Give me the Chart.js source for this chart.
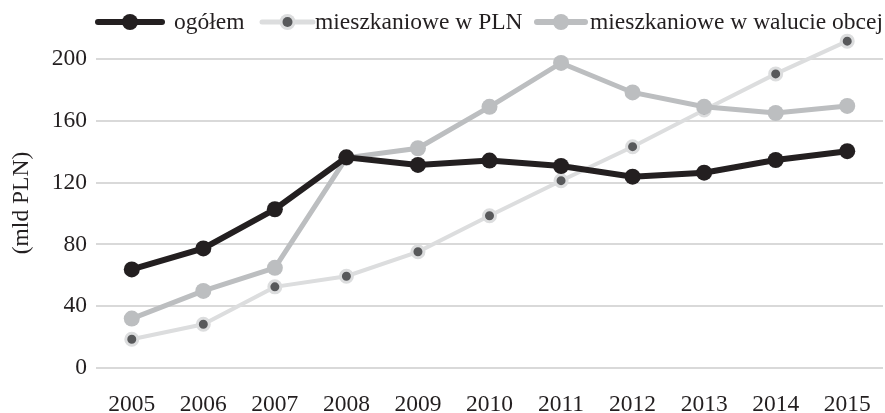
<!DOCTYPE html>
<html>
<head>
<meta charset="utf-8">
<script src="https://cdn.jsdelivr.net/npm/chart.js@4"></script>
<style>
    html, body { margin: 0; padding: 0; background: #fff; }
    #wrap { width: 885px; height: 413px; }
</style>
</head>
<body>
<div id="wrap"><canvas id="chart1"></canvas></div>
<script>
const years = ['2005', '2006', '2007', '2008', '2009', '2010', '2011', '2012', '2013', '2014', '2015'];
const ogolem = [63.8, 77.4, 102.7, 136.3, 131.4, 134.2, 130.7, 123.8, 126.4, 134.6, 140.3];
const mieszkPLN = [18.6, 28.3, 52.5, 59.4, 75.2, 98.5, 121.2, 143.2, 167, 190.3, 211.5];
const mieszkWalucie = [32, 49.9, 64.8, 136, 142.2, 169, 197.4, 178.3, 169, 165, 169.6];
const yTicks = [0, 40, 80, 120, 160, 200];

const FONT = '"Liberation Serif", "Times New Roman", serif';
const FONT_SIZE = 23.5;
const BLACK = '#231f20';

// legend drawn by hand so it sits where the original one is
const legendItems = [
    { text: 'ogółem', x1: 98, x2: 162, lineColor: BLACK, lineWidth: 6, dot: BLACK, r: 8, textX: 174 },
    { text: 'mieszkaniowe w PLN', x1: 262, x2: 313, lineColor: '#dcddde', lineWidth: 5, dot: '#58595b', ring: '#dcddde', r: 5, textX: 315 },
    { text: 'mieszkaniowe w walucie obcej', x1: 537, x2: 585, lineColor: '#bcbec0', lineWidth: 6, dot: '#bcbec0', r: 8, textX: 590 }
];

const legendPlugin = {
    id: 'topLegend',
    afterDraw(chart) {
        const ctx = chart.ctx;
        const y = 22;
        ctx.save();
        legendItems.forEach(item => {
            ctx.strokeStyle = item.lineColor;
            ctx.lineWidth = item.lineWidth;
            ctx.lineCap = 'round';
            ctx.beginPath();
            ctx.moveTo(item.x1, y);
            ctx.lineTo(item.x2, y);
            ctx.stroke();
            const cx = (item.x1 + item.x2) / 2;
            if (item.ring) {
                ctx.fillStyle = item.ring;
                ctx.beginPath();
                ctx.arc(cx, y, item.r + 3, 0, Math.PI * 2);
                ctx.fill();
            }
            ctx.fillStyle = item.dot;
            ctx.beginPath();
            ctx.arc(cx, y, item.r, 0, Math.PI * 2);
            ctx.fill();
            ctx.fillStyle = BLACK;
            ctx.font = FONT_SIZE + 'px ' + FONT;
            ctx.textBaseline = 'alphabetic';
            ctx.textAlign = 'left';
            ctx.fillText(item.text, item.textX, 29);
        });
        // y axis title
        ctx.translate(22, 203);
        ctx.rotate(-Math.PI / 2);
        ctx.textAlign = 'center';
        ctx.textBaseline = 'middle';
        ctx.fillText('(mld PLN)', 0, 0);
        ctx.restore();
    }
};

const ctx = document.getElementById('chart1').getContext('2d');
const chart1 = new Chart(ctx, {
    type: 'line',
    data: {
        labels: years,
        datasets: [
            {
                label: 'ogółem',
                data: ogolem,
                borderColor: BLACK,
                backgroundColor: BLACK,
                borderWidth: 6,
                pointRadius: 8,
                pointBorderWidth: 0,
                pointBackgroundColor: BLACK
            },
            {
                label: 'mieszkaniowe w walucie obcej',
                data: mieszkWalucie,
                borderColor: '#bcbec0',
                backgroundColor: '#bcbec0',
                borderWidth: 5,
                pointRadius: 8,
                pointBorderWidth: 0,
                pointBackgroundColor: '#bcbec0'
            },
            {
                label: 'mieszkaniowe w PLN',
                data: mieszkPLN,
                borderColor: '#dcddde',
                backgroundColor: '#58595b',
                borderWidth: 4,
                pointRadius: 6,
                pointBorderWidth: 3,
                pointBorderColor: '#dcddde',
                pointBackgroundColor: '#58595b'
            }
        ]
    },
    options: {
        responsive: true,
        maintainAspectRatio: false,
        animation: false,
        layout: { autoPadding: false, padding: { top: 28, right: 2, left: 0, bottom: 0 } },
        scales: {
            x: {
                offset: true,
                grid: { display: false, drawTicks: false },
                border: { display: false },
                ticks: {
                    color: BLACK,
                    font: { family: FONT, size: FONT_SIZE },
                    padding: 23,
                    maxRotation: 0
                },
                afterFit: axis => {
                    axis.height = 45;
                    axis.paddingLeft = 0;
                    axis.paddingRight = 0;
                }
            },
            y: {
                min: 0,
                max: 220,
                afterBuildTicks: axis => { axis.ticks = yTicks.map(v => ({ value: v })); },
                grid: { color: '#d9d9d9', lineWidth: 2, drawTicks: false },
                border: { display: false },
                ticks: {
                    color: BLACK,
                    font: { family: FONT, size: FONT_SIZE },
                    padding: 9
                },
                afterFit: axis => {
                    axis.width = 96;
                    axis.paddingTop = 0;
                    axis.paddingBottom = 0;
                }
            }
        },
        plugins: {
            legend: { display: false },
            tooltip: { enabled: false }
        }
    },
    plugins: [legendPlugin]
});
</script>
</body>
</html>
